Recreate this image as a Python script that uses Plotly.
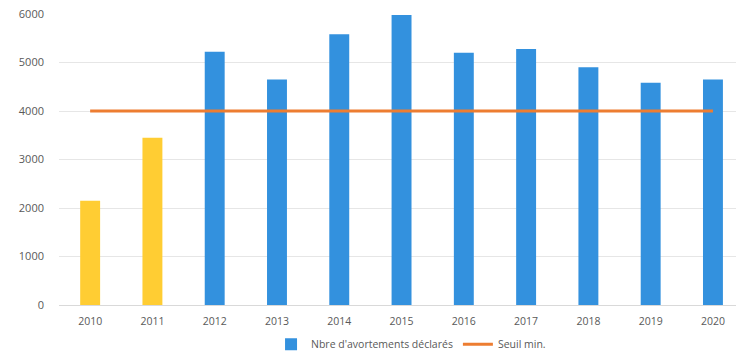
import plotly.graph_objects as go

years = ["2010", "2011", "2012", "2013", "2014", "2015", "2016", "2017", "2018", "2019", "2020"]
declared = [2150, 3450, 5220, 4650, 5580, 5980, 5200, 5280, 4900, 4580, 4650]
early_years = ["2010", "2011"]
threshold = [4000] * len(years)
y_ticks = [0, 1000, 2000, 3000, 4000, 5000, 6000]

BLUE = "#3391DE"
YELLOW = "#FFCD33"
ORANGE = "#ED7D31"

early = [v if y in early_years else None for y, v in zip(years, declared)]
later = [None if y in early_years else v for y, v in zip(years, declared)]

fig = go.Figure()
fig.add_trace(go.Bar(
    x=years, y=later, name="Nbre d'avortements déclarés",
    marker=dict(color=BLUE, line=dict(width=0)), width=0.32,
))
fig.add_trace(go.Bar(
    x=years, y=early, name="Nbre d'avortements déclarés", showlegend=False,
    marker=dict(color=YELLOW, line=dict(width=0)), width=0.32,
))
fig.add_trace(go.Scatter(
    x=years, y=threshold, name="Seuil min.", mode="lines",
    line=dict(color=ORANGE, width=3),
))

fig.update_layout(
    width=736, height=360,
    margin=dict(l=59, r=0, t=14, b=55),
    paper_bgcolor="white", plot_bgcolor="white",
    font=dict(family="Open Sans", size=11, color="#595959"),
    showlegend=True, barmode="overlay",
    legend=dict(orientation="h", x=0.52, xanchor="center", y=-0.185, yanchor="bottom",
                font=dict(size=10.5, color="#595959"), itemwidth=30,
                entrywidth=0, tracegroupgap=0),
)
fig.update_xaxes(type="category", range=[-0.5, 10.37], showgrid=False,
                 showline=False, ticks="", ticklabelstandoff=8,
                 tickfont=dict(size=10.5))
fig.update_yaxes(range=[0, 6000], tickvals=y_ticks, showgrid=True,
                 gridcolor="#E6E6E6", gridwidth=1, zeroline=True,
                 zerolinecolor="#D9D9D9", zerolinewidth=1, ticks="",
                 ticklabelstandoff=14, tickfont=dict(size=11))

fig.write_html("out.html")
